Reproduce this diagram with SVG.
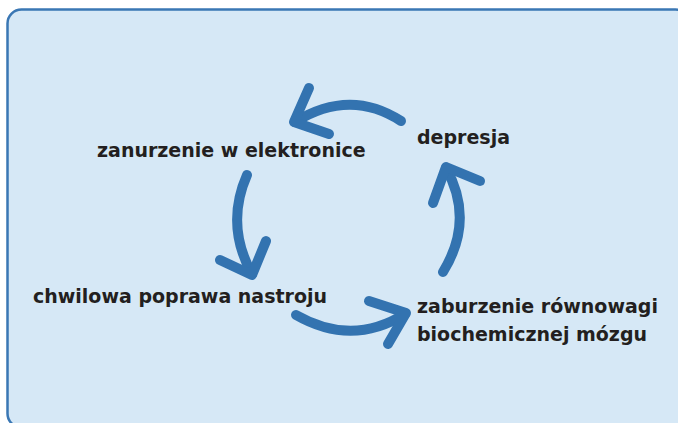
<svg xmlns="http://www.w3.org/2000/svg" width="678" height="423" viewBox="0 0 678 423">
  <style>
    .lbl { font-family: "DejaVu Sans", "Liberation Sans", sans-serif; font-weight: bold; font-size: 19px; fill: #231f20; }
    .arc { fill: none; stroke: #3373b0; stroke-width: 10; stroke-linecap: round; stroke-linejoin: round; }
  </style>
  <rect width="678" height="423" fill="#ffffff"/>
  <rect id="frame" x="7.5" y="9.5" width="682" height="418" rx="14" fill="#d6e8f6" stroke="#3a77b4" stroke-width="2.5"/>
  <g id="connectors">
    <path class="arc" d="M 401 121 Q 350 88 295 122"/>
    <path class="arc" d="M 309 88 L 294 122 L 329 134"/>
    <path class="arc" d="M 247 175 Q 225 225 252 274"/>
    <path class="arc" d="M 220 260 L 252 275 L 266 241"/>
    <path class="arc" d="M 296 315 Q 352 347 405 314"/>
    <path class="arc" d="M 369 301 L 406 313 L 388 344"/>
    <path class="arc" d="M 443 272 Q 475 220 446 168"/>
    <path class="arc" d="M 433 203 L 446 167 L 480 181"/>
  </g>
  <g id="node-depresja"><text class="lbl" x="417" y="144">depresja</text></g>
  <g id="node-zanurzenie"><text class="lbl" x="97" y="157">zanurzenie w elektronice</text></g>
  <g id="node-poprawa"><text class="lbl" x="33" y="303">chwilowa poprawa nastroju</text></g>
  <g id="node-zaburzenie">
    <text class="lbl" x="417" y="313">zaburzenie równowagi</text>
    <text class="lbl" x="417" y="341">biochemicznej mózgu</text>
  </g>
</svg>
